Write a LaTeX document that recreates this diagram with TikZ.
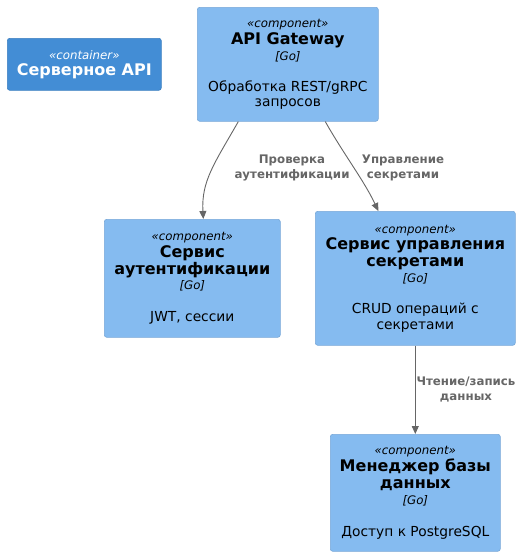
\documentclass[tikz,border=0pt]{standalone}
\usepackage{fontspec}
\setmainfont{DejaVu Sans}
\usetikzlibrary{arrows.meta}
\definecolor{comp}{HTML}{85BBF0}
\definecolor{compb}{HTML}{78A8D8}
\definecolor{cont}{HTML}{438DD5}
\definecolor{contb}{HTML}{3C7FC0}
\definecolor{edgec}{HTML}{666666}
\newcommand{\cstereo}[1]{{\fontsize{11.8}{12}\selectfont\itshape «#1»}}
\newcommand{\ctitle}[1]{{\fontsize{16}{16}\selectfont\bfseries #1}}
\newcommand{\ctech}[1]{{\fontsize{11.8}{12}\selectfont\itshape [#1]}}
\begin{document}
\begin{tikzpicture}[x=1pt,y=-1pt,
  box/.style={rounded corners=2.5pt, align=center, inner sep=0pt, anchor=north west,
    font=\fontsize{13.8}{16.8}\selectfont},
  compbox/.style={box, fill=comp, draw=compb, line width=0.6pt, text=black},
  contbox/.style={box, fill=cont, draw=contb, line width=0.6pt, text=white},
  rel/.style={draw=edgec, line width=0.9pt, -{Triangle[length=8pt,width=7pt]}},
  lbl/.style={text=edgec, font=\bfseries\fontsize{11.8}{15}\selectfont, align=center}]
\useasboundingbox (0,0) rectangle (523,557);

\node[contbox, minimum width=154pt, minimum height=52pt] (api) at (7,38)
  {\cstereo{container}\\[-1pt]\ctitle{Серверное API}};

\node[compbox, minimum width=181pt, minimum height=114pt] (gw) at (197,7)
  {\cstereo{component}\\\ctitle{API Gateway}\\[-1pt]\ctech{Go}\\[15pt]Обработка REST/gRPC\\[-2pt]запросов};

\node[compbox, minimum width=176pt, minimum height=118pt] (auth) at (104,219)
  {\cstereo{component}\\\ctitle{Сервис}\\\ctitle{аутентификации}\\[-2pt]\ctech{Go}\\[15pt]JWT, сессии};

\node[compbox, minimum width=200pt, minimum height=134pt] (sec) at (315,211)
  {\cstereo{component}\\\ctitle{Сервис управления}\\\ctitle{секретами}\\[-1pt]\ctech{Go}\\[14pt]CRUD операций с\\[-1pt]секретами};

\node[compbox, minimum width=170pt, minimum height=117pt] (db) at (330,434)
  {\cstereo{component}\\\ctitle{Менеджер базы}\\\ctitle{данных}\\[-1pt]\ctech{Go}\\[15pt]Доступ к PostgreSQL};

\draw[rel] ([xshift=-49.5pt]gw.south) .. controls +(-24,42) and +(-2,-38) .. ([xshift=11pt]auth.north);
\draw[rel] ([xshift=37.5pt]gw.south) .. controls +(18,32) and +(-14,-30) .. ([xshift=-37pt]sec.north);
\draw[rel] (sec.south) -- (db.north);

\node[lbl] (l1) at (292,168) {Проверка\\аутентификации};
\node[lbl] (l2) at (403,168) {Управление\\секретами};
\node[lbl] (l3) at (466,390) {Чтение/запись\\данных};
\end{tikzpicture}
\end{document}
